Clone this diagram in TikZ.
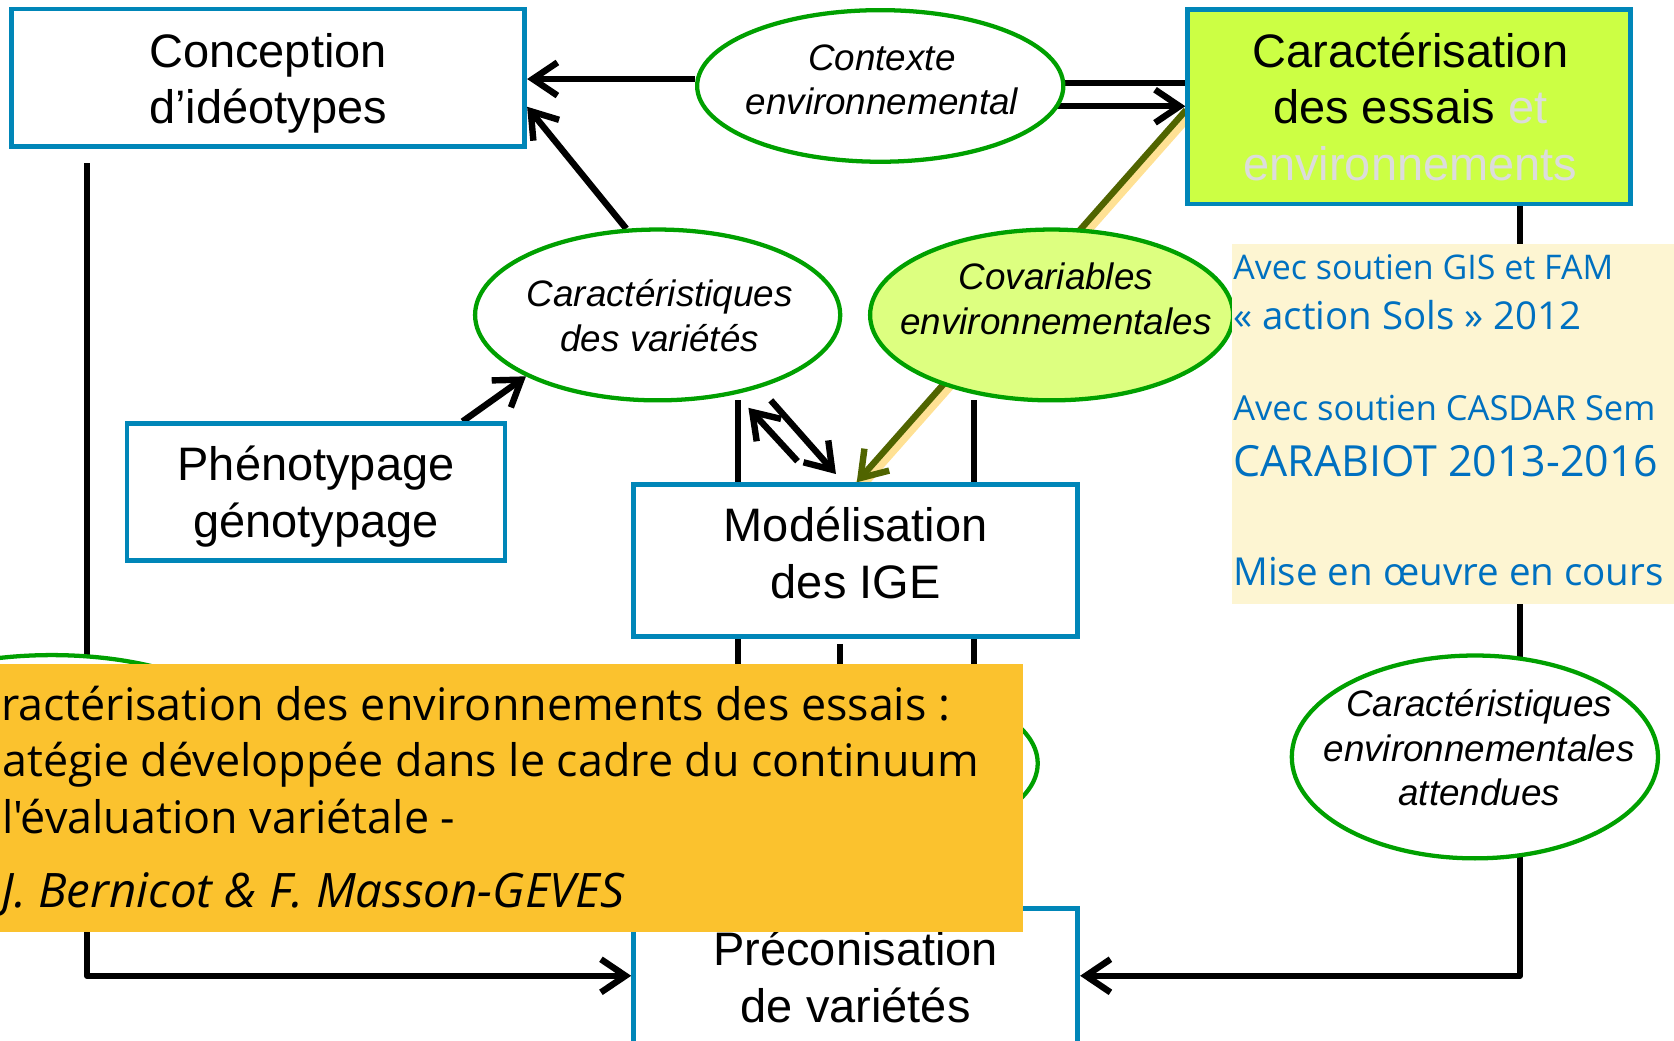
\documentclass[tikz,border=0pt]{standalone}
\usepackage{fontspec}
\setmainfont{Liberation Sans}
\newfontfamily\segoe[Ligatures=TeXOff]{Open Sans}
\usetikzlibrary{arrows.meta,shapes.geometric,calc}
\definecolor{boxblue}{RGB}{0,134,184}
\definecolor{ellgreen}{RGB}{0,160,0}
\definecolor{caracfill}{RGB}{204,255,68}
\definecolor{covfill}{RGB}{221,255,128}
\definecolor{olivec}{RGB}{80,100,0}
\definecolor{glowc}{RGB}{255,200,60}
\definecolor{infofill}{RGB}{253,245,210}
\definecolor{infotext}{RGB}{0,112,192}
\definecolor{bannerfill}{RGB}{251,194,46}
\definecolor{lightg}{RGB}{220,220,220}
\pgfdeclarelayer{bg}
\pgfdeclarelayer{fg}
\pgfsetlayers{bg,main,fg}
\begin{document}
\begin{tikzpicture}[x=1pt,y=-1pt,
  box/.style={draw=boxblue,line width=4.5pt,fill=white,inner sep=0pt},
  boxtext/.style={align=center,inner sep=0pt,font=\fontsize{44}{53}\selectfont},
  ell/.style={ellipse,draw=ellgreen,line width=4pt,fill=white,inner sep=0pt},
  etext/.style={align=center,inner sep=0pt,font=\fontsize{34.5}{41.5}\selectfont\itshape},
  conn/.style={line width=6pt,draw=black,line join=round},
  arr/.style={-{Straight Barb[length=23pt,width=31pt]}},
  itext/.style={anchor=base west,inner sep=0pt,text=infotext},
  btext/.style={anchor=base west,inner sep=0pt,text=black,font=\segoe\fontsize{42}{42}\selectfont}]
\useasboundingbox (0,0) rectangle (1568,975);

% boxes
\node[box,minimum width=481pt,minimum height=129pt] (concept) at (251,73) {};
\node[boxtext] (conceptT) at (251,78) {Conception\\d’idéotypes};
\node[box,fill=caracfill,minimum width=415pt,minimum height=182pt] (carac) at (1320,100) {};
\node[boxtext] (caracT) at (1321,100) {Caractérisation\\des essais \textcolor{lightg}{et}\\\textcolor{lightg}{environnements}};
\node[box,minimum width=354pt,minimum height=128pt] (pheno) at (296,461) {};
\node[boxtext] (phenoT) at (296,465) {Phénotypage\\génotypage};
\node[box,minimum width=416pt,minimum height=142pt] (model) at (801.5,525) {};
\node[boxtext] (modelT) at (801.5,518) {Modélisation\\des IGE};
\node[box,minimum width=416pt,minimum height=128pt] (precon) at (801.5,915) {};
\node[boxtext] (preconT) at (801.5,915) {Préconisation\\de variétés};

% ellipses
\node[ell,minimum width=343pt,minimum height=142pt] (ctx) at (824.5,80.5) {};
\node[etext] (ctxT) at (826,74.5) {Contexte\\environnemental};
\node[ell,minimum width=342pt,minimum height=160pt] (cvar) at (616,295) {};
\node[etext] (cvarT) at (618,295.5) {Caractéristiques\\des variétés};
\node[ell,fill=covfill,minimum width=340pt,minimum height=160pt] (covar) at (985,295) {};
\node[etext] (covarT) at (989,280) {Covariables\\environnementales};
\node[ell,minimum width=343pt,minimum height=190pt] (cea) at (1381.5,709) {};
\node[etext] (ceaT) at (1385.5,700.5) {Caractéristiques\\environnementales\\attendues};
\node[ell,minimum width=380pt,minimum height=160pt] (hidL) at (48.5,693.6) {};
\node[ell,minimum width=290pt,minimum height=145pt] (hidR) at (827,715) {};

% connectors
\begin{pgfonlayer}{bg}
\coordinate (cA) at ([yshift=6.5pt]ctx.west);
\draw[conn,arr] (cA) -- (cA -| concept.east);
\coordinate (cB) at ([yshift=3pt]ctx.east);
\draw[conn] (cB) -- (cB -| carac.west);
\coordinate (cC) at (985,99.5);
\draw[conn,arr] (cC) -- (cC -| carac.west);
\coordinate (cD) at ([yshift=-27pt]concept.east);
\draw[conn,arr] (cvar.110) -- (cD);
\coordinate (cE) at ([xshift=-42pt]pheno.north east);
\draw[conn,arr] (cE) -- (cvar.205);
\coordinate (d1s) at (722,375);
\coordinate (d1e) at (783,444);
\coordinate (d2s) at (747,432);
\coordinate (d2e) at (701,382);
\draw[conn,arr] (d1s) -- (d1e);
\draw[conn,arr] (d2s) -- (d2e);
\coordinate (v1) at (691,375);
\draw[conn] (v1) -- (v1 |- model.north);
\coordinate (v2) at (912.5,375);
\draw[conn] (v2) -- (v2 |- model.north);
\coordinate (w1) at (691,700);
\draw[conn] (model.south -| w1) -- (w1);
\coordinate (w2t) at (787,603);
\coordinate (w2) at (787,700);
\draw[conn] (w2t) -- (w2);
\coordinate (w3) at (912.5,700);
\draw[conn] (model.south -| w3) -- (w3);
\coordinate (L1) at (81.5,153);
\coordinate (L2) at (81.5,914);
\draw[conn,arr] (L1) -- (L2) -- (L2 -| precon.west);
\coordinate (R2) at (1423.5,914);
\draw[conn,arr] (carac.south -| R2) -- (R2) -- (R2 -| precon.east);
\coordinate (oS) at (1111,103);
\coordinate (oE) at ([xshift=1pt]model.north);
\draw[glowc,line width=11pt,opacity=.55,transform canvas={shift={(3pt,-3pt)}}] (oS) -- (oE);
\draw[conn,draw=olivec,arr] (oS) -- (oE);
\end{pgfonlayer}

% foreground panels
\begin{pgfonlayer}{fg}
\node[fill=infofill,inner sep=0pt,minimum width=414pt,minimum height=338pt,anchor=north west] (info) at (1154,228) {};
\node[itext,font=\segoe\fontsize{31.8}{31.8}\selectfont] (i1) at (1155,262) {Avec soutien GIS et FAM};
\node[itext,font=\segoe\fontsize{36}{36}\selectfont] (i2) at (1155,309) {« action Sols » 2012};
\node[itext,font=\segoe\fontsize{32.3}{32.3}\selectfont] (i3) at (1155,394) {Avec soutien CASDAR Sem};
\node[itext,font=\segoe\fontsize{40.2}{40.2}\selectfont] (i4) at (1155,446) {CARABIOT 2013-2016};
\node[itext,font=\segoe\fontsize{36.1}{36.1}\selectfont] (i5) at (1155,548) {Mise en œuvre en cours};
\node[fill=bannerfill,inner sep=0pt,minimum width=958pt,minimum height=251pt,anchor=north west] (banner) at (0,622) {};
\node[btext] (b1) at (1,675) {ractérisation des environnements des essais :};
\node[btext] (b2) at (2,727) {atégie développée dans le cadre du continuum};
\node[btext] (b3) at (2,781) {l'évaluation variétale -};
\node[btext,font=\segoe\itshape\fontsize{44.5}{44.5}\selectfont] (b4) at (1,850) {J. Bernicot \& F. Masson-GEVES};
\end{pgfonlayer}
\end{tikzpicture}
\end{document}
